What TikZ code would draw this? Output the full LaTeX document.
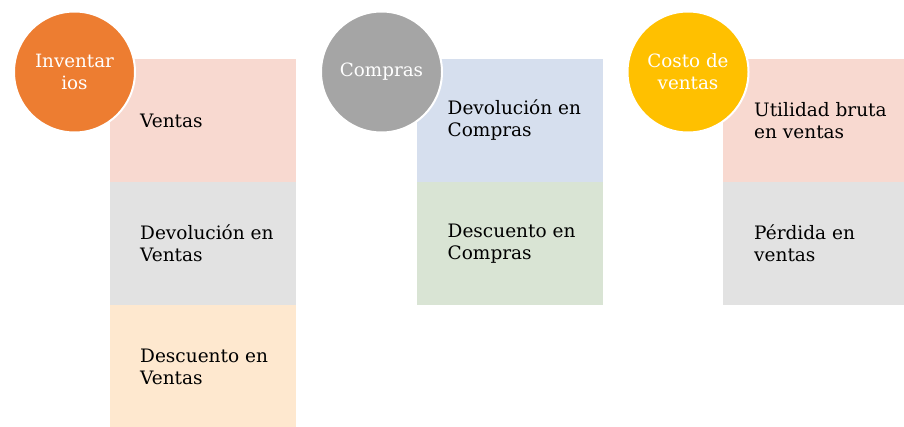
\documentclass[tikz,border=0pt]{standalone}
\usepackage{fontspec}
\setmainfont{DejaVu Serif}
\usetikzlibrary{positioning}

\definecolor{naranja}{HTML}{ED7D31}
\definecolor{gris}{HTML}{A5A5A5}
\definecolor{amarillo}{HTML}{FFC000}
\definecolor{rosa}{HTML}{F8D9D0}
\definecolor{grisclaro}{HTML}{E2E2E2}
\definecolor{crema}{HTML}{FEE8CF}
\definecolor{azulclaro}{HTML}{D6DFEE}
\definecolor{verdeclaro}{HTML}{D9E4D4}

\tikzset{
  caja/.style={rectangle, fill=#1, draw=#1, line width=0.6pt,
    minimum width=185.4pt, minimum height=122.4pt},
  texto/.style={anchor=west, inner sep=0pt, align=left, font=\fontsize{18.5}{22}\selectfont},
  circulo/.style={circle, fill=#1, draw=white, line width=2pt, minimum size=121pt,
    inner sep=0pt, align=center, text=white, font=\fontsize{18.3}{22}\selectfont}
}

\begin{document}
\begin{tikzpicture}[x=1pt,y=1pt]
\useasboundingbox (0,0) rectangle (904,-426);

% primera columna
\node[caja=rosa, anchor=north west] (ventas) at (110,-59) {};
\node[caja=grisclaro, below=0pt of ventas] (devven) {};
\node[caja=crema, below=0pt of devven] (desven) {};
\node[texto] (t1) at ([xshift=30pt]ventas.west) {Ventas};
\node[texto] (t2) at ([xshift=30pt]devven.west) {Devolución en\\Ventas};
\node[texto] (t3) at ([xshift=30pt]desven.west) {Descuento en\\Ventas};
\node[circulo=naranja] (inv) at (74.5,-72) {Inventar\\ios};

% segunda columna
\node[caja=azulclaro, anchor=north west] (devcom) at (416.5,-59) {};
\node[caja=verdeclaro, below=0pt of devcom] (descom) {};
\node[texto] (t4) at ([xshift=31pt]devcom.west) {Devolución en\\Compras};
\node[texto] (t5) at ([xshift=31pt]descom.west) {Descuento en\\Compras};
\node[circulo=gris] (com) at (381.5,-72) {Compras};

% tercera columna
\node[caja=rosa, anchor=north west] (util) at (723,-59) {};
\node[caja=grisclaro, below=0pt of util] (perd) {};
\node[texto] (t6) at ([xshift=31pt]util.west) {Utilidad bruta\\en ventas};
\node[texto] (t7) at ([xshift=31pt]perd.west) {Pérdida en\\ventas};
\node[circulo=amarillo] (costo) at (688,-72) {Costo de\\ventas};
\end{tikzpicture}
\end{document}
